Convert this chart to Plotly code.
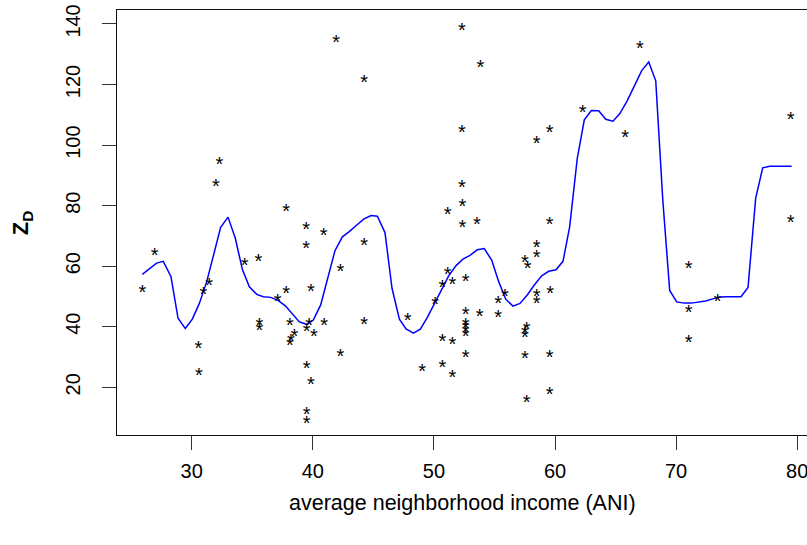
import plotly.graph_objects as go

# scatter data (average neighborhood income, Z_D)
ani = [25.92, 26.94, 30.55, 30.6, 30.96, 31.45, 32.0, 32.28, 34.38, 35.5,
       35.58, 35.58, 37.1, 37.8, 37.79, 38.1, 38.47, 38.2, 38.1, 39.44,
       39.44, 39.85, 39.7, 39.5, 40.08, 40.93, 40.9, 39.5, 39.85, 39.5,
       39.5, 41.92, 42.27, 42.27, 44.23, 44.23, 44.23, 47.84, 49.02, 50.1,
       50.7, 50.7, 50.7, 51.14, 51.14, 51.52, 51.52, 51.52, 52.32, 52.32,
       52.32, 52.35, 52.35, 52.63, 52.63, 52.63, 52.63, 52.63, 52.63, 52.63,
       53.56, 53.78, 53.83, 55.3, 55.3, 55.87, 57.52, 57.74, 57.66, 57.52,
       57.52, 57.52, 57.66, 58.49, 58.49, 58.49, 58.49, 58.49, 59.56, 59.56,
       59.6, 59.56, 59.56, 62.29, 65.8, 67.02, 71.04, 71.04, 71.04, 73.44,
       79.46, 79.46]
zd = [52.8, 65.0, 34.3, 25.4, 52.1, 54.9, 87.8, 95.1, 61.7, 63.0,
      41.7, 40.2, 49.9, 52.5, 79.6, 41.9, 38.3, 36.6, 35.1, 73.6,
      67.3, 53.2, 41.9, 39.8, 38.3, 41.9, 71.6, 27.7, 22.2, 12.5,
      9.5, 135.3, 59.7, 31.7, 122.1, 68.3, 42.0, 43.5, 26.5, 48.8,
      54.4, 36.4, 27.8, 58.7, 78.6, 55.2, 35.5, 24.8, 139.3, 105.5,
      87.5, 81.1, 74.3, 56.3, 45.3, 41.7, 40.9, 39.6, 38.3, 31.3,
      75.2, 44.9, 127.0, 49.2, 44.6, 51.5, 62.5, 60.6, 40.6, 39.2,
      38.0, 30.9, 16.4, 101.9, 67.6, 64.3, 51.5, 49.2, 105.6, 75.3,
      52.5, 31.2, 19.1, 112.2, 103.9, 133.4, 60.6, 46.1, 36.2, 49.9,
      109.7, 75.8]

# smoothed curve
fit_x = [25.92, 27.1, 27.65, 28.29, 28.87, 29.47, 30.05, 30.63, 31.24, 31.82,
         32.39, 33.0, 33.6, 34.18, 34.76, 35.37, 35.91, 36.52, 37.1, 37.73,
         38.31, 38.89, 39.5, 40.04, 40.65, 41.23, 41.83, 42.44, 43.01, 43.63,
         44.23, 44.81, 45.33, 45.96, 46.54, 47.15, 47.7, 48.31, 48.88, 49.46,
         50.03, 50.64, 51.22, 51.83, 52.4, 52.98, 53.58, 54.16, 54.77, 55.35,
         55.93, 56.53, 57.11, 57.71, 58.29, 58.9, 59.48, 60.08, 60.66, 61.21,
         61.84, 62.42, 63.0, 63.61, 64.19, 64.79, 65.37, 65.97, 66.55, 67.16,
         67.74, 68.32, 68.9, 69.47, 70.05, 70.65, 71.26, 71.83, 72.44, 73.02,
         73.62, 74.2, 74.78, 75.36, 75.94, 76.57, 77.15, 77.75, 79.54]
fit_y = [57.3, 61.0, 61.6, 56.5, 42.8, 39.4, 42.5, 47.7, 54.9, 63.7,
         72.8, 76.2, 69.2, 59.0, 53.2, 50.7, 49.9, 49.7, 48.8, 46.9,
         44.4, 41.6, 40.8, 42.2, 47.2, 56.0, 65.1, 69.7, 71.4, 73.6,
         75.6, 76.7, 76.5, 71.1, 52.7, 42.5, 39.3, 37.9, 39.2, 43.1,
         47.5, 52.4, 56.8, 60.2, 62.3, 63.6, 65.4, 65.8, 62.0, 54.9,
         49.1, 46.8, 47.7, 50.5, 53.8, 56.8, 58.3, 58.8, 61.6, 73.0,
         95.6, 108.3, 111.4, 111.3, 108.5, 107.9, 110.5, 114.7, 119.6, 124.6,
         127.4, 121.2, 81.9, 52.0, 48.2, 47.8, 47.8, 48.1, 48.5, 49.2,
         49.8, 49.9, 49.9, 49.9, 53.0, 82.4, 92.5, 93.0, 93.0]

x_ticks = [30, 40, 50, 60, 70, 80]
y_ticks = [20, 40, 60, 80, 100, 120, 140]

FONT = "Liberation Sans, Arial, Helvetica, sans-serif"
Y_RANGE = [4.25, 144.6]
# the "*" glyph sits above the text's centre line; an overlaid axis shifted by
# the same amount lets the glyph's ink centre fall on its data value
GLYPH_SHIFT = 1.9

fig = go.Figure()
fig.add_trace(go.Scatter(
    x=ani, y=zd, mode="text", text=["*"] * len(ani), yaxis="y2",
    textposition="middle center",
    textfont=dict(family=FONT, size=20, color="black"),
    hoverinfo="skip", showlegend=False))
fig.add_trace(go.Scatter(
    x=fit_x, y=fit_y, mode="lines",
    line=dict(color="#0000ff", width=1.5),
    hoverinfo="skip", showlegend=False))

fig.update_layout(
    width=807, height=545,
    margin=dict(l=117, r=0, t=10, b=110, pad=0),
    paper_bgcolor="white", plot_bgcolor="white",
    font=dict(family=FONT, size=20, color="black"),
    xaxis=dict(range=[23.83, 80.81], tickvals=x_ticks, ticktext=[str(v) for v in x_ticks],
               showgrid=False, zeroline=False, showline=True, mirror=True,
               linecolor="#111", linewidth=1.3, ticks="outside", ticklen=14,
               tickwidth=1.3, tickcolor="#333", ticklabelstandoff=4,
               ticklabeloverflow="allow",
               tickfont=dict(family=FONT, size=20, color="black")),
    yaxis=dict(range=Y_RANGE, tickvals=y_ticks, ticktext=[str(v) for v in y_ticks],
               showgrid=False, zeroline=False, showline=True, mirror=False,
               linecolor="#111", linewidth=1.3, ticks="outside", ticklen=14,
               tickwidth=1.3, tickcolor="#333", tickangle=-90, ticklabelstandoff=14,
               tickfont=dict(family=FONT, size=20, color="black")),
    yaxis2=dict(range=[Y_RANGE[0] + GLYPH_SHIFT, Y_RANGE[1] + GLYPH_SHIFT],
                overlaying="y", visible=False, showgrid=False, zeroline=False),
    annotations=[
        dict(text="average neighborhood income (ANI)", xref="paper", yref="paper",
             x=0.5, y=-0.16, xanchor="center", yanchor="middle", showarrow=False,
             font=dict(family=FONT, size=21.5, color="black")),
        dict(text="<b>Z</b><sub><b>D</b></sub>", xref="paper", yref="paper",
             x=-0.138, y=0.5, xanchor="center", yanchor="middle", showarrow=False,
             textangle=-90, font=dict(family=FONT, size=22, color="black")),
    ],
)

fig.write_html("out.html")
